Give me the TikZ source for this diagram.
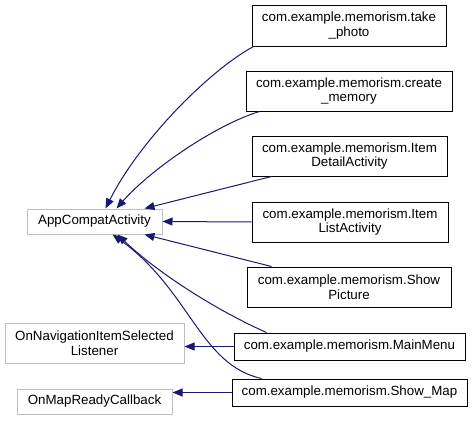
\documentclass[tikz,border=0pt]{standalone}
\usepackage{fontspec}
\setmainfont{Liberation Sans}
\usetikzlibrary{arrows.meta,calc}
\definecolor{edgeblue}{RGB}{25,25,112}
\definecolor{boxgray}{RGB}{191,191,191}
\begin{document}
\begin{tikzpicture}[x=0.75pt,y=-0.75pt,
  box/.style={draw, line width=0.75pt, inner sep=0pt, align=center,
    font=\fontsize{10}{11}\selectfont},
  childbox/.style={box, draw=black},
  basebox/.style={box, draw=boxgray},
  inh/.style={draw=edgeblue, line width=0.75pt,
    -{Triangle[length=7.5pt,width=6pt,fill=edgeblue]}}]
\useasboundingbox (0,0) rectangle (472,421);
% derived classes
\node[childbox, minimum width=145.5pt, minimum height=30.75pt] (tp) at (349,25.5) {com.example.memorism.take\\\_photo};
\node[childbox, minimum width=154.5pt, minimum height=30pt] (cm) at (349,91) {com.example.memorism.create\\\_memory};
\node[childbox, minimum width=146.25pt, minimum height=30pt] (id) at (349.5,156) {com.example.memorism.Item\\DetailActivity};
\node[childbox, minimum width=147pt, minimum height=30pt] (il) at (350,222) {com.example.memorism.Item\\ListActivity};
\node[childbox, minimum width=153pt, minimum height=30pt] (sp) at (349,287) {com.example.memorism.Show\\Picture};
\node[childbox, minimum width=173.25pt, minimum height=20.25pt] (mm) at (349.5,346.5) {com.example.memorism.MainMenu};
\node[childbox, minimum width=176.25pt, minimum height=20.25pt] (sm) at (349.5,392.5) {com.example.memorism.Show\_Map};
% base classes
\node[basebox, minimum width=101.25pt, minimum height=18.75pt] (ac) at (94.5,221.5) {AppCompatActivity};
\node[basebox, minimum width=134.25pt, minimum height=30pt] (on) at (94.5,343) {OnNavigationItemSelected\\Listener};
\node[basebox, minimum width=116.25pt, minimum height=18.75pt] (om) at (94.5,401.5) {OnMapReadyCallback};
% inheritance edges
\draw[inh] ($(tp.south west)+(2,0)$) .. controls (210,70) and (140,140) .. ($(ac.north west)+(79,0)$);
\draw[inh] ($(cm.south west)+(14,0)$) .. controls (215,125) and (150,170) .. ($(ac.north west)+(90,0)$);
\draw[inh] ($(id.south west)+(20,0)$) -- ($(ac.north west)+(118,0)$);
\draw[inh] (il.west) -- (ac.east);
\draw[inh] ($(sp.north west)+(25,0)$) -- ($(ac.south west)+(118,0)$);
\draw[inh] ($(mm.north west)+(33,0)$) .. controls (220,312) and (160,275) .. ($(ac.south west)+(91,0)$);
\draw[inh] ($(sm.north west)+(30,0)$) .. controls (200,365) and (190,290) .. ($(ac.south west)+(86,0)$);
\draw[inh] (mm.west) -- (on.east |- mm.west);
\draw[inh] (sm.west) -- (om.east |- sm.west);
\end{tikzpicture}
\end{document}
